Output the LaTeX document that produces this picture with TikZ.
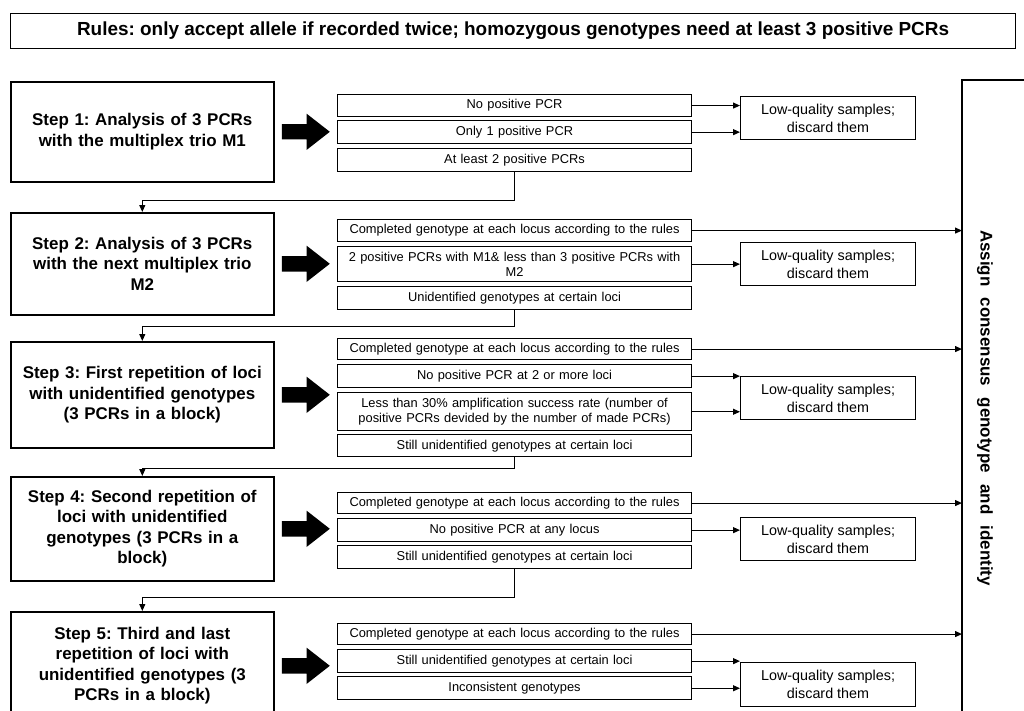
\documentclass[tikz,border=0pt]{standalone}
\usepackage{fontspec}
\setmainfont{Liberation Sans}
\newfontfamily\widesans[WordSpace=2.4]{Liberation Sans}
\usetikzlibrary{positioning,arrows.meta,shapes.arrows}

\tikzset{
  stepbox/.style={draw, line width=1.6bp, align=center, anchor=north west,
    font=\fontsize{17}{20.5}\selectfont\bfseries, text width=254bp, inner xsep=4.5bp},
  outbox/.style={draw, line width=1.1bp, align=center, anchor=north west,
    font=\fontsize{12.9}{14.5}\selectfont, text width=344bp, inner xsep=5bp, inner ysep=0bp},
  lowbox/.style={draw, line width=1.1bp, align=center, anchor=north west,
    font=\fontsize{14.4}{18}\selectfont, minimum width=175bp, minimum height=43bp},
  bigarrow/.style={single arrow, fill=black, draw=none, minimum height=48bp,
    single arrow head extend=10.5bp, inner ysep=7.5bp, inner xsep=0bp,
    single arrow tip angle=76},
  link/.style={line width=1.1bp, -{Triangle[length=7bp,width=6bp]}},
}

\begin{document}
\frenchspacing
\begin{tikzpicture}[x=1bp, y=-1bp]
  \useasboundingbox (0,0) rectangle (1024,711);
  \clip (0,0) rectangle (1024,711);

  \node[draw, line width=1.1bp, anchor=north west, minimum width=1005bp, minimum height=35bp,
    font=\fontsize{19}{22}\selectfont\bfseries] (rules) at (10,13)
    {Rules: only accept allele if recorded twice; homozygous genotypes need at least 3 positive PCRs};

  % steps
  \node[stepbox, minimum height=100bp] (step1) at (10,81)
    {Step 1: Analysis of 3 PCRs\\with the multiplex trio M1};
  \node[stepbox, minimum height=102bp] (step2) at (10,212)
    {Step 2: Analysis of 3 PCRs\\with the next multiplex trio\\M2};
  \node[stepbox, minimum height=106bp] (step3) at (10,341)
    {Step 3: First repetition of loci\\with unidentified genotypes\\(3 PCRs in a block)};
  \node[stepbox, minimum height=104bp] (step4) at (10,476)
    {Step 4: Second repetition of\\loci with unidentified\\genotypes (3 PCRs in a\\block)};
  \node[stepbox, minimum height=108bp] (step5) at (10,611)
    {Step 5: Third and last\\repetition of loci with\\unidentified genotypes (3\\PCRs in a block)};

  \foreach \s in {1,...,5}
    \node[bigarrow, right=7bp of step\s] (arrow\s) {};

  % outcomes
  \node[outbox, minimum height=22bp] (o11) at (337,94) {No positive PCR};
  \node[outbox, minimum height=23bp, below=3bp of o11] (o12) {Only 1 positive PCR};
  \node[outbox, minimum height=23bp, below=4bp of o12] (o13) {At least 2 positive PCRs};

  \node[outbox, minimum height=22bp] (o21) at (337,219) {Completed genotype at each locus according to the rules};
  \node[outbox, minimum height=35bp, below=4bp of o21] (o22)
    {2 positive PCRs with M1\& less than 3 positive PCRs with\\M2};
  \node[outbox, minimum height=23bp, below=4bp of o22] (o23) {Unidentified genotypes at certain loci};

  \node[outbox, minimum height=21bp] (o31) at (337,338) {Completed genotype at each locus according to the rules};
  \node[outbox, minimum height=23bp, below=4bp of o31] (o32) {No positive PCR at 2 or more loci};
  \node[outbox, minimum height=38bp, below=4bp of o32] (o33)
    {Less than 30\% amplification success rate (number of\\positive PCRs devided by the number of made PCRs)};
  \node[outbox, minimum height=22bp, below=3bp of o33] (o34) {Still unidentified genotypes at certain loci};

  \node[outbox, minimum height=21bp] (o41) at (337,492) {Completed genotype at each locus according to the rules};
  \node[outbox, minimum height=23bp, below=4bp of o41] (o42) {No positive PCR at any locus};
  \node[outbox, minimum height=23bp, below=3bp of o42] (o43) {Still unidentified genotypes at certain loci};

  \node[outbox, minimum height=21bp] (o51) at (337,623) {Completed genotype at each locus according to the rules};
  \node[outbox, minimum height=23bp, below=4bp of o51] (o52) {Still unidentified genotypes at certain loci};
  \node[outbox, minimum height=23bp, below=3bp of o52] (o53) {Inconsistent genotypes};

  % low quality
  \node[lowbox] (lq1) at (740,96) {Low-quality samples;\\discard them};
  \node[lowbox] (lq2) at (740,242) {Low-quality samples;\\discard them};
  \node[lowbox] (lq3) at (740,376) {Low-quality samples;\\discard them};
  \node[lowbox] (lq4) at (740,517) {Low-quality samples;\\discard them};
  \node[lowbox, minimum height=44bp] (lq5) at (740,662) {Low-quality samples;\\discard them};

  % assign
  \coordinate (frame) at (962,80);
  \draw[line width=1.1bp] (962,730) |- (1040,80);
  \node[rotate=-90, font=\widesans\fontsize{17}{20}\selectfont\bfseries] (assign) at (985,408)
    {Assign consensus genotype and identity};

  \foreach \o/\l in {o11/lq1, o12/lq1, o22/lq2, o32/lq3, o33/lq3, o42/lq4, o52/lq5, o53/lq5}
    \draw[link] (\o.east) -- (\o.east -| \l.west);
  \foreach \o in {o21, o31, o41, o51}
    \draw[link] (\o.east) -- (\o.east -| frame);

  \draw[link] (o13.south) -- ++(0,28) -| (step2.north);
  \draw[link] (o23.south) -- ++(0,16) -| (step3.north);
  \draw[link] (o34.south) -- ++(0,11) -| (step4.north);
  \draw[link] (o43.south) -- ++(0,28) -| (step5.north);
\end{tikzpicture}
\end{document}
